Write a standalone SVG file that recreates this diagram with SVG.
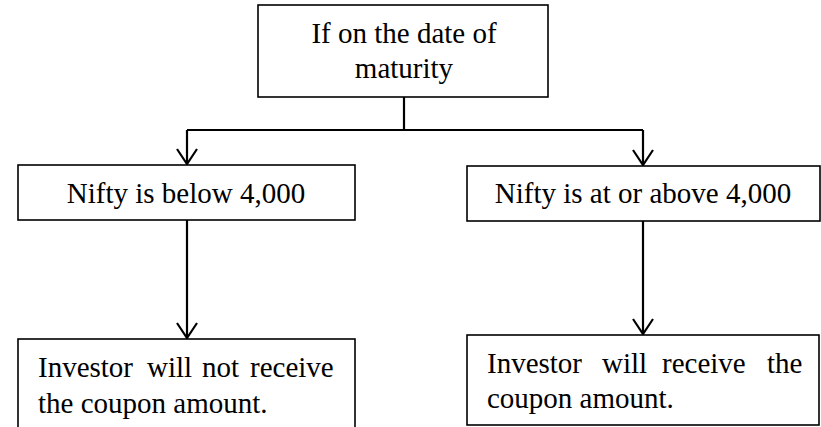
<svg xmlns="http://www.w3.org/2000/svg" width="821" height="427" viewBox="0 0 821 427">
<defs>
<style>
.box{fill:#fff;stroke:#000;stroke-width:1.6}
.t{font-family:"Liberation Serif","Times New Roman",serif;font-size:29px;fill:#000}
.c{fill:none;stroke:#000;stroke-width:2.2}
</style>
<marker id="v" viewBox="0 0 18 24" refX="16" refY="12" markerWidth="18" markerHeight="24" markerUnits="userSpaceOnUse" orient="auto">
<path d="M1,2 L16,12 L1,22" fill="none" stroke="#000" stroke-width="2.2"/>
</marker>
</defs>
<rect width="821" height="427" fill="#fff"/>
<g id="connectors">
<path class="c" d="M404,97 V130"/>
<path class="c" d="M187,130 H643"/>
<path class="c" d="M187,130 V164" marker-end="url(#v)"/>
<path class="c" d="M643,130 V165" marker-end="url(#v)"/>
<path class="c" d="M187,220 V338" marker-end="url(#v)"/>
<path class="c" d="M643,221 V334" marker-end="url(#v)"/>
</g>
<g id="top">
<rect class="box" x="258" y="5" width="290" height="92"/>
<text class="t" x="404" y="43" text-anchor="middle">If on the date of</text>
<text class="t" x="404" y="78" text-anchor="middle">maturity</text>
</g>
<g id="below">
<rect class="box" x="18" y="165" width="337" height="55"/>
<text class="t" x="186" y="203" text-anchor="middle">Nifty is below 4,000</text>
</g>
<g id="above">
<rect class="box" x="467" y="166" width="353" height="55"/>
<text class="t" x="643" y="203" text-anchor="middle">Nifty is at or above 4,000</text>
</g>
<g id="noreceive">
<rect class="box" x="18" y="339" width="337" height="95"/>
<text class="t" y="377"><tspan x="38">Investor</tspan><tspan x="147">will</tspan><tspan x="202">not</tspan><tspan x="250">receive</tspan></text>
<text class="t" x="38" y="413">the coupon amount.</text>
</g>
<g id="receive">
<rect class="box" x="467" y="335" width="352" height="90"/>
<text class="t" y="373"><tspan x="487">Investor</tspan><tspan x="602">will</tspan><tspan x="662">receive</tspan><tspan x="767">the</tspan></text>
<text class="t" x="487" y="408">coupon amount.</text>
</g>
</svg>
